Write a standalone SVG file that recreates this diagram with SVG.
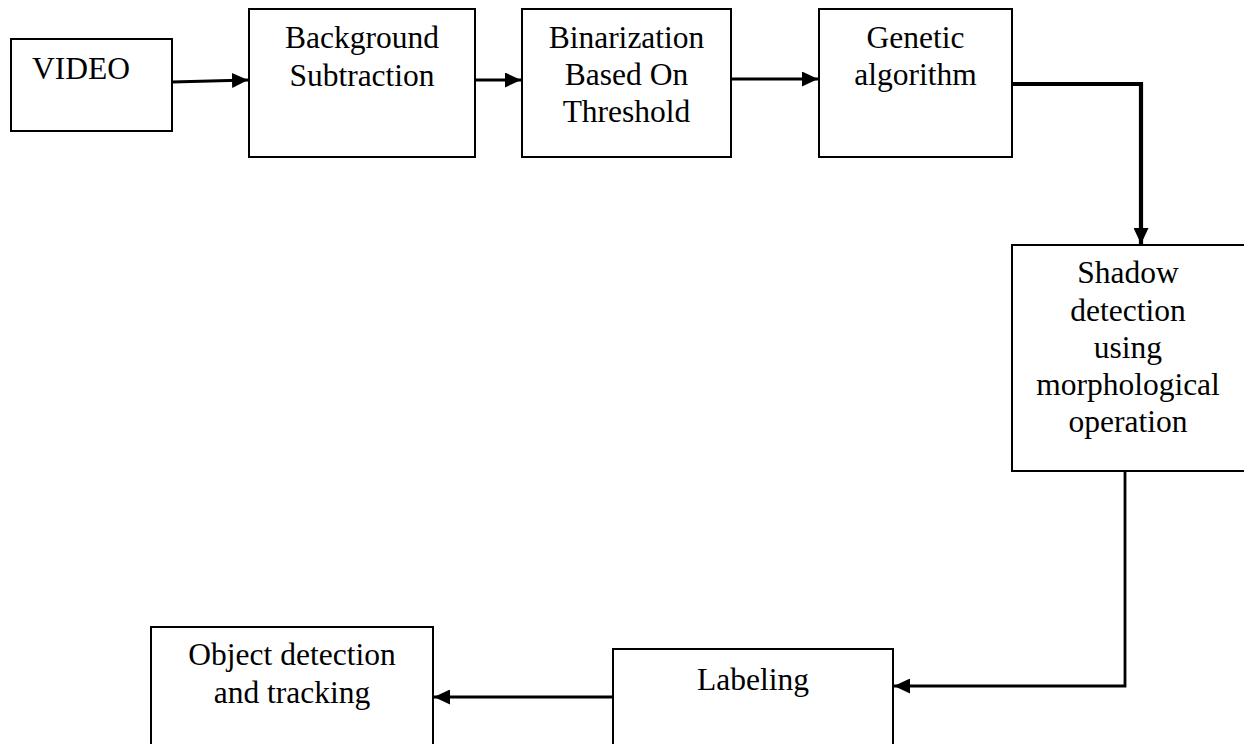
<svg xmlns="http://www.w3.org/2000/svg" width="1244" height="744" viewBox="0 0 1244 744">
<style>
.box{fill:#fff;stroke:#000;stroke-width:2}
.t{font-family:"Liberation Serif","Times New Roman",serif;font-size:31.5px;fill:#000;text-anchor:middle}
.c{fill:none;stroke:#000;stroke-width:2.8}
.cb{fill:none;stroke:#000;stroke-width:4.2}
</style>
<defs>
<marker id="ah" viewBox="0 0 10 10" refX="10" refY="5" markerWidth="16" markerHeight="15" markerUnits="userSpaceOnUse" orient="auto" preserveAspectRatio="none">
<path d="M0,0 L10,5 L0,10 Z" fill="#000"/>
</marker>
</defs>
<rect width="1244" height="744" fill="#fff"/>
<g id="connectors">
<path class="c" d="M172,82 L248,80" marker-end="url(#ah)"/>
<path class="c" d="M475,80 L521,80" marker-end="url(#ah)"/>
<path class="c" d="M731,79 L818,79" marker-end="url(#ah)"/>
<path class="cb" d="M1012,84 L1141,84 L1141,244" marker-end="url(#ah)"/>
<path class="c" d="M1125,471 L1125,686 L894,686" marker-end="url(#ah)"/>
<path class="c" d="M613,697 L434,697" marker-end="url(#ah)"/>
</g>
<g id="video">
<rect class="box" x="11" y="39" width="161" height="92"/>
<text class="t" x="81" y="79">VIDEO</text>
</g>
<g id="background">
<rect class="box" x="249" y="9" width="226" height="148"/>
<text class="t" x="362" y="48">Background</text>
<text class="t" x="362" y="86">Subtraction</text>
</g>
<g id="binarization">
<rect class="box" x="522" y="9" width="209" height="148"/>
<text class="t" x="626.5" y="48">Binarization</text>
<text class="t" x="626.5" y="85">Based On</text>
<text class="t" x="626.5" y="122">Threshold</text>
</g>
<g id="genetic">
<rect class="box" x="819" y="9" width="193" height="148"/>
<text class="t" x="915.5" y="48">Genetic</text>
<text class="t" x="915.5" y="85">algorithm</text>
</g>
<g id="shadow">
<rect class="box" x="1012" y="245" width="236" height="226"/>
<text class="t" x="1128" y="283">Shadow</text>
<text class="t" x="1128" y="321">detection</text>
<text class="t" x="1128" y="358">using</text>
<text class="t" x="1128" y="395">morphological</text>
<text class="t" x="1128" y="432">operation</text>
</g>
<g id="labeling">
<rect class="box" x="613" y="649" width="280" height="110"/>
<text class="t" x="753" y="690">Labeling</text>
</g>
<g id="object">
<rect class="box" x="151" y="627" width="282" height="130"/>
<text class="t" x="292" y="665">Object detection</text>
<text class="t" x="292" y="703">and tracking</text>
</g>
</svg>
